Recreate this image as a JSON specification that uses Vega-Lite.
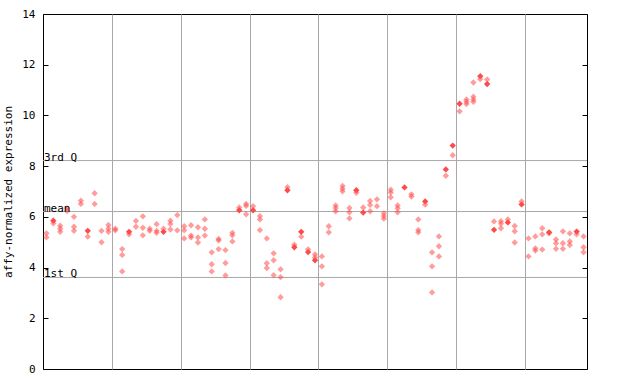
{
  "$schema": "https://vega.github.io/schema/vega-lite/v6.json",
  "width": 544,
  "height": 355,
  "autosize": {"type": "none"},
  "padding": {"left": 43, "top": 14, "right": 53, "bottom": 15},
  "background": "white",
  "config": {
    "view": {"stroke": "black", "strokeWidth": 1},
    "font": "DejaVu Sans Mono"
  },
  "datasets": {
    "pts": [
      {"i":1,"v":5.35,"s":0},{"i":1,"v":5.19,"s":0},
      {"i":2,"v":5.85,"s":1},{"i":2,"v":5.74,"s":0},
      {"i":3,"v":5.65,"s":0},{"i":3,"v":5.53,"s":0},{"i":3,"v":5.41,"s":0},
      {"i":4,"v":6.34,"s":0},{"i":4,"v":6.23,"s":0},
      {"i":5,"v":6.0,"s":0},{"i":5,"v":5.61,"s":0},{"i":5,"v":5.45,"s":0},
      {"i":6,"v":6.64,"s":0},{"i":6,"v":6.51,"s":0},
      {"i":7,"v":5.45,"s":1},{"i":7,"v":5.22,"s":0},
      {"i":8,"v":6.93,"s":0},{"i":8,"v":6.51,"s":0},
      {"i":9,"v":5.45,"s":0},{"i":9,"v":5.0,"s":0},
      {"i":10,"v":5.68,"s":0},{"i":10,"v":5.53,"s":0},{"i":10,"v":5.41,"s":0},
      {"i":11,"v":5.53,"s":0},{"i":11,"v":5.47,"s":0},
      {"i":12,"v":4.73,"s":0},{"i":12,"v":4.5,"s":0},{"i":12,"v":3.85,"s":0},
      {"i":13,"v":5.41,"s":1},{"i":13,"v":5.31,"s":0},
      {"i":14,"v":5.84,"s":0},{"i":14,"v":5.61,"s":0},
      {"i":15,"v":6.02,"s":0},{"i":15,"v":5.57,"s":0},{"i":15,"v":5.27,"s":0},
      {"i":16,"v":5.53,"s":0},{"i":16,"v":5.45,"s":0},
      {"i":17,"v":5.71,"s":0},{"i":17,"v":5.45,"s":0},{"i":17,"v":5.37,"s":0},
      {"i":18,"v":5.41,"s":1},{"i":18,"v":5.53,"s":0},
      {"i":19,"v":5.85,"s":0},{"i":19,"v":5.72,"s":0},{"i":19,"v":5.5,"s":0},
      {"i":20,"v":6.07,"s":0},{"i":20,"v":5.47,"s":0},
      {"i":21,"v":5.63,"s":0},{"i":21,"v":5.47,"s":0},{"i":21,"v":5.15,"s":0},
      {"i":22,"v":5.67,"s":0},{"i":22,"v":5.26,"s":0},{"i":22,"v":5.19,"s":0},
      {"i":23,"v":5.59,"s":0},{"i":23,"v":5.19,"s":0},{"i":23,"v":4.99,"s":0},
      {"i":24,"v":5.9,"s":0},{"i":24,"v":5.53,"s":0},{"i":24,"v":5.26,"s":0},
      {"i":25,"v":4.6,"s":0},{"i":25,"v":4.13,"s":0},{"i":25,"v":3.85,"s":0},
      {"i":26,"v":5.13,"s":0},{"i":26,"v":5.07,"s":0},{"i":26,"v":4.73,"s":0},
      {"i":27,"v":4.69,"s":0},{"i":27,"v":4.18,"s":0},{"i":27,"v":3.69,"s":0},
      {"i":28,"v":5.37,"s":0},{"i":28,"v":5.27,"s":0},{"i":28,"v":5.03,"s":0},
      {"i":29,"v":6.37,"s":0},{"i":29,"v":6.26,"s":1},
      {"i":30,"v":6.51,"s":0},{"i":30,"v":6.43,"s":0},{"i":30,"v":6.1,"s":0},
      {"i":31,"v":6.42,"s":0},{"i":31,"v":6.26,"s":1},
      {"i":32,"v":6.03,"s":0},{"i":32,"v":5.9,"s":0},{"i":32,"v":5.48,"s":0},
      {"i":33,"v":5.15,"s":0},{"i":33,"v":4.17,"s":0},{"i":33,"v":3.98,"s":0},
      {"i":34,"v":4.56,"s":0},{"i":34,"v":4.29,"s":0},{"i":34,"v":3.7,"s":0},
      {"i":35,"v":3.93,"s":0},{"i":35,"v":3.62,"s":0},{"i":35,"v":2.83,"s":0},
      {"i":36,"v":7.17,"s":0},{"i":36,"v":7.05,"s":1},
      {"i":37,"v":4.9,"s":0},{"i":37,"v":4.8,"s":1},
      {"i":38,"v":5.41,"s":1},{"i":38,"v":5.22,"s":0},
      {"i":39,"v":4.72,"s":0},{"i":39,"v":4.61,"s":1},
      {"i":40,"v":4.52,"s":0},{"i":40,"v":4.4,"s":0},{"i":40,"v":4.29,"s":1},
      {"i":41,"v":4.44,"s":0},{"i":41,"v":4.05,"s":0},{"i":41,"v":3.34,"s":0},
      {"i":42,"v":5.63,"s":0},{"i":42,"v":5.39,"s":0},
      {"i":43,"v":6.45,"s":0},{"i":43,"v":6.35,"s":0},{"i":43,"v":6.22,"s":0},
      {"i":44,"v":7.22,"s":0},{"i":44,"v":7.11,"s":0},{"i":44,"v":7.01,"s":0},
      {"i":45,"v":6.35,"s":0},{"i":45,"v":6.18,"s":0},{"i":45,"v":5.94,"s":0},
      {"i":46,"v":7.05,"s":1},{"i":46,"v":6.95,"s":0},
      {"i":47,"v":6.37,"s":0},{"i":47,"v":6.17,"s":1},
      {"i":48,"v":6.63,"s":0},{"i":48,"v":6.47,"s":0},{"i":48,"v":6.22,"s":0},
      {"i":49,"v":6.69,"s":0},{"i":49,"v":6.42,"s":0},
      {"i":50,"v":6.14,"s":0},{"i":50,"v":6.03,"s":0},{"i":50,"v":5.93,"s":0},
      {"i":51,"v":7.07,"s":0},{"i":51,"v":6.96,"s":0},{"i":51,"v":6.77,"s":0},
      {"i":52,"v":6.45,"s":0},{"i":52,"v":6.34,"s":0},{"i":52,"v":6.18,"s":0},
      {"i":53,"v":7.16,"s":1},
      {"i":54,"v":6.89,"s":0},{"i":54,"v":6.8,"s":0},
      {"i":55,"v":5.9,"s":0},{"i":55,"v":5.48,"s":0},{"i":55,"v":5.39,"s":0},
      {"i":56,"v":6.61,"s":1},{"i":56,"v":6.48,"s":0},
      {"i":57,"v":4.6,"s":0},{"i":57,"v":4.05,"s":0},{"i":57,"v":3.02,"s":0},
      {"i":58,"v":5.23,"s":0},{"i":58,"v":4.84,"s":0},{"i":58,"v":4.44,"s":0},
      {"i":59,"v":7.87,"s":1},{"i":59,"v":7.62,"s":0},
      {"i":60,"v":8.81,"s":1},{"i":60,"v":8.43,"s":0},
      {"i":61,"v":10.46,"s":1},{"i":61,"v":10.16,"s":0},
      {"i":62,"v":10.63,"s":0},{"i":62,"v":10.54,"s":0},{"i":62,"v":10.45,"s":0},
      {"i":63,"v":11.3,"s":0},{"i":63,"v":10.74,"s":0},{"i":63,"v":10.63,"s":0},{"i":63,"v":10.54,"s":0},
      {"i":64,"v":11.55,"s":1},{"i":64,"v":11.43,"s":0},
      {"i":65,"v":11.42,"s":0},{"i":65,"v":11.24,"s":1},
      {"i":66,"v":5.82,"s":0},{"i":66,"v":5.49,"s":1},
      {"i":67,"v":5.83,"s":0},{"i":67,"v":5.73,"s":0},{"i":67,"v":5.55,"s":0},
      {"i":68,"v":5.9,"s":0},{"i":68,"v":5.78,"s":1},
      {"i":69,"v":5.64,"s":0},{"i":69,"v":5.43,"s":0},{"i":69,"v":4.99,"s":0},
      {"i":70,"v":6.61,"s":0},{"i":70,"v":6.49,"s":1},
      {"i":71,"v":5.15,"s":0},{"i":71,"v":4.44,"s":0},
      {"i":72,"v":5.23,"s":0},{"i":72,"v":4.76,"s":0},{"i":72,"v":4.67,"s":0},
      {"i":73,"v":5.55,"s":0},{"i":73,"v":5.31,"s":0},{"i":73,"v":4.71,"s":0},
      {"i":74,"v":5.39,"s":1},{"i":74,"v":5.35,"s":0},
      {"i":75,"v":5.11,"s":0},{"i":75,"v":4.96,"s":0},{"i":75,"v":4.74,"s":0},
      {"i":76,"v":5.43,"s":0},{"i":76,"v":4.96,"s":0},{"i":76,"v":4.74,"s":0},
      {"i":77,"v":5.35,"s":0},{"i":77,"v":5.03,"s":0},{"i":77,"v":4.89,"s":0},
      {"i":78,"v":5.42,"s":1},{"i":78,"v":5.31,"s":0},
      {"i":79,"v":5.23,"s":0},{"i":79,"v":4.8,"s":0},{"i":79,"v":4.6,"s":0}
    ],
    "stats": [
      {"label": "3rd Q", "v": 8.22},
      {"label": "mean", "v": 6.21},
      {"label": "1st Q", "v": 3.61}
    ]
  },
  "layer": [
    {
      "data": {"name": "stats"},
      "mark": {"type": "rule", "color": "#a8a8a8", "strokeWidth": 1},
      "encoding": {
        "y": {"field": "v", "type": "quantitative", "scale": {"domain": [0, 14], "nice": false, "zero": true},
          "axis": {"orient": "left", "title": "affy-normalized expression", "titleFont": "DejaVu Sans Mono", "titleFontSize": 11, "titleFontWeight": "normal", "titleColor": "black", "titlePadding": 8,
            "values": [0, 2, 4, 6, 8, 10, 12, 14], "format": "d", "grid": false, "domain": false, "tickSize": -5, "tickColor": "black", "labelFont": "DejaVu Sans Mono", "labelFontSize": 11, "labelColor": "black", "labelPadding": 13}}
      }
    },
    {
      "data": {"name": "pts"},
      "mark": {"type": "point", "shape": "diamond", "filled": true, "size": 40, "color": "#ff4a4a"},
      "encoding": {
        "x": {"field": "i", "type": "quantitative", "scale": {"domain": [0.5, 79.5], "nice": false, "zero": false},
          "axis": {"values": [10.5, 20.5, 30.5, 40.5, 50.5, 60.5, 70.5], "grid": true, "gridColor": "#a8a8a8", "gridOpacity": 1, "labels": false, "ticks": false, "domain": false, "title": null}},
        "y": {"field": "v", "type": "quantitative",
          "axis": {"orient": "right", "title": null, "labels": false, "values": [0, 2, 4, 6, 8, 10, 12, 14], "grid": false, "domain": false, "tickSize": -5, "tickColor": "black"}},
        "opacity": {"field": "s", "type": "quantitative", "scale": {"domain": [0, 1], "range": [0.55, 1]}, "legend": null}
      }
    },
    {
      "data": {"name": "stats"},
      "mark": {"type": "text", "align": "left", "baseline": "alphabetic", "font": "DejaVu Sans Mono", "fontSize": 11, "color": "black", "x": 1, "dy": 0},
      "encoding": {
        "y": {"field": "v", "type": "quantitative", "axis": null},
        "text": {"field": "label"}
      }
    }
  ],
  "resolve": {"axis": {"y": "independent"}}
}
